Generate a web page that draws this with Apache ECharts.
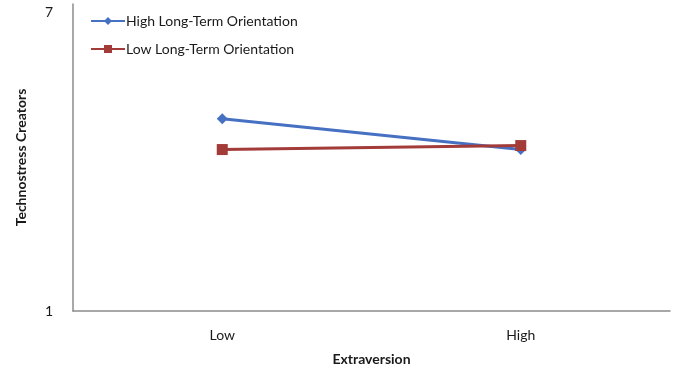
<!DOCTYPE html>
<html><head><meta charset="utf-8">
<script src="https://cdn.jsdelivr.net/npm/echarts@6/dist/echarts.min.js"></script>
<style>html,body{margin:0;padding:0;background:#fff}#c{width:676px;height:371px}</style>
</head><body><div id="c"></div>
<script>
const categories = ['Low', 'High'];
const highLTO = [4.87, 4.25];
const lowLTO = [4.25, 4.33];
const yLabels = {1: '1', 7: '7'};

const font = 'Lato, "Open Sans", sans-serif';
const chart = echarts.init(document.getElementById('c'));
chart.setOption({
  animation: false,
  textStyle: {fontFamily: font},
  grid: {left: 73, right: 6, top: 4, bottom: 57, containLabel: false},
  legend: {
    orient: 'vertical', left: 85, top: 9, itemGap: 14,
    itemWidth: 34, itemHeight: 10,
    textStyle: {fontFamily: font, fontSize: 14, color: '#1a1a1a', padding: [0,0,0,-4]},
    data: ['High Long-Term Orientation', 'Low Long-Term Orientation']
  },
  xAxis: {
    type: 'category', data: categories, boundaryGap: true,
    axisLine: {lineStyle: {color: '#8c8c8c', width: 1.5}},
    axisTick: {show: false},
    axisLabel: {fontFamily: font, fontSize: 14, color: '#1a1a1a', margin: 17},
    name: 'Extraversion', nameLocation: 'middle', nameGap: 41,
    nameTextStyle: {fontFamily: font, fontSize: 14, fontWeight: 'bold', color: '#1a1a1a'}
  },
  yAxis: {
    type: 'value', min: 1, max: 7.18, interval: 1,
    splitLine: {show: false},
    axisLine: {show: true, lineStyle: {color: '#8c8c8c', width: 1.5}},
    axisTick: {show: false},
    axisLabel: {fontFamily: font, fontSize: 14, color: '#1a1a1a', margin: 20, showMaxLabel: false,
      formatter: v => yLabels[Math.round(v)] && Math.abs(v - Math.round(v)) < 1e-6 ? yLabels[Math.round(v)] : ''},
    name: 'Technostress Creators', nameLocation: 'middle', nameGap: 45,
    nameTextStyle: {fontFamily: font, fontSize: 14, fontWeight: 'bold', color: '#1a1a1a'}
  },
  series: [
    {name: 'High Long-Term Orientation', type: 'line', data: highLTO,
     symbol: 'diamond', symbolSize: 11,
     lineStyle: {color: '#4670C2', width: 3}, itemStyle: {color: '#4670C2'}},
    {name: 'Low Long-Term Orientation', type: 'line', data: lowLTO,
     symbol: 'rect', symbolSize: 11,
     lineStyle: {color: '#A33B38', width: 3}, itemStyle: {color: '#A33B38'}}
  ]
});
</script></body></html>
